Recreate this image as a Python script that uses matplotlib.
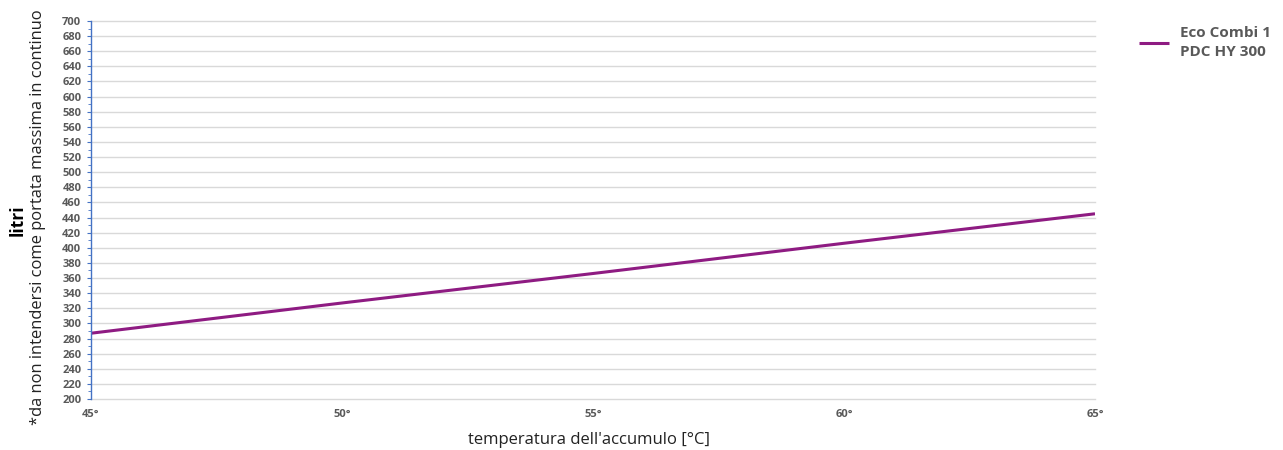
import numpy as np
import matplotlib.pyplot as plt
from matplotlib.ticker import MultipleLocator

temps = [45, 50, 55, 60, 65]
temp_labels = ['45°', '50°', '55°', '60°', '65°']
litri = [287, 327, 366, 406, 445]
series_name = 'Eco Combi 1\nPDC HY 300'

plt.rcParams['font.family'] = ['Open Sans', 'DejaVu Sans']

fig = plt.figure(figsize=(12.83, 4.5), dpi=100)
ax = fig.add_axes([91/1283, 1 - 399/450, (1095 - 91)/1283, (399 - 21)/450])

ax.plot(temps, litri, color='#8E1B82', linewidth=2.2, label=series_name,
        solid_capstyle='butt')

ax.set_xlim(45, 65)
ax.set_ylim(200, 700)
ax.set_xticks(temps)
ax.set_xticklabels(temp_labels)
ax.yaxis.set_major_locator(MultipleLocator(20))
ax.yaxis.set_minor_locator(MultipleLocator(10))

ax.grid(axis='y', which='major', color='#d9d9d9', linewidth=1)
for gl in ax.get_ygridlines():
    gl.set_clip_on(False)
ax.set_axisbelow(True)
for s in ['top', 'right', 'bottom']:
    ax.spines[s].set_visible(False)
ax.spines['left'].set_color('#4472c4')
ax.spines['left'].set_linewidth(1)

ax.tick_params(axis='y', which='major', length=3, color='#4472c4', pad=4,
               labelsize=8, labelcolor='#595959')
ax.tick_params(axis='y', which='minor', length=2, color='#4472c4')
ax.tick_params(axis='x', length=0, pad=7, labelsize=8, labelcolor='#595959')
for lbl in ax.get_xticklabels() + ax.get_yticklabels():
    lbl.set_fontweight('bold')

fig.text(18/1283, 1 - 220/450, 'litri', rotation=90, ha='center', va='center',
         fontsize=12.5, fontweight='bold', color='black')
fig.text(38/1283, 1 - 217/450, '*da non intendersi come portata massima in continuo',
         rotation=90, ha='center', va='center', fontsize=11.9, color='#222222')
fig.text(589/1283, 1 - 440/450, "temperatura dell'accumulo [°C]", ha='center',
         va='center', fontsize=12, color='#222222')

leg = ax.legend(loc='upper left', bbox_to_anchor=(1125/1283, 1 - 12/450),
                bbox_transform=fig.transFigure, frameon=False, handlelength=2.0,
                handletextpad=0.7, prop={'size': 11, 'weight': 'bold'})
for t in leg.get_texts():
    t.set_color('#595959')
    t.set_linespacing(1.5)

fig.savefig('out.png', dpi=100)
